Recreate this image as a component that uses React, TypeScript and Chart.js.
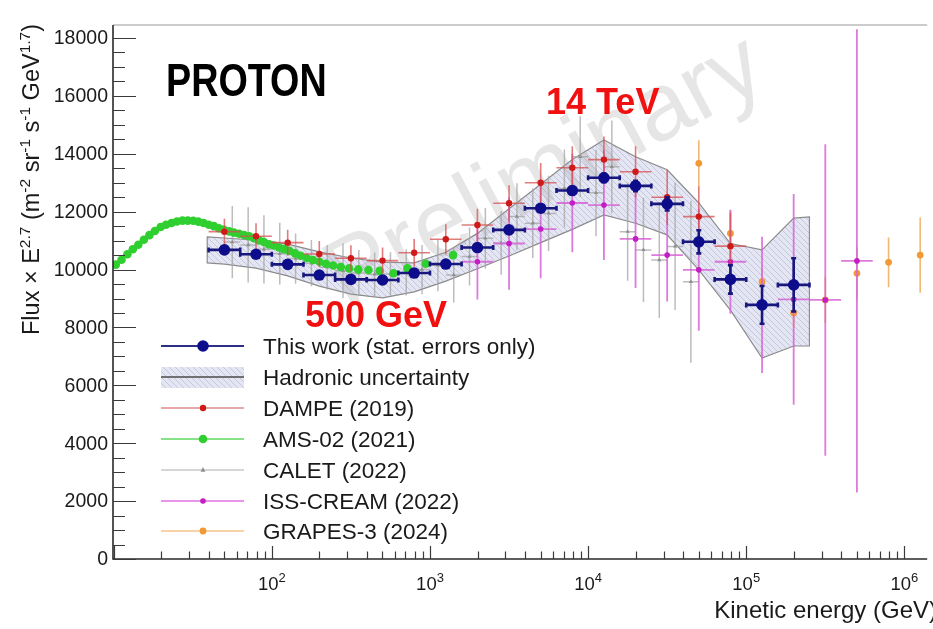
import { useEffect, useRef } from "react";
import { Chart, registerables } from "chart.js";

Chart.register(...registerables);

const FONT = "'Liberation Sans', Arial, Helvetica, sans-serif";

// Axis ranges: kinetic energy (GeV) on a log axis, flux x E^2.7 on a linear axis
const X_MIN = 9.892;
const X_MAX = 1.3946e6;
const Y_MAX = 18450;
const yTickValues = [0, 2000, 4000, 6000, 8000, 10000, 12000, 14000, 16000, 18000];
const yMinorStep = 500;
const xLabelDecades = [2, 3, 4, 5, 6];

// This work (stat. errors only), 0.2-decade bins
const thisWorkEnergy = [50.1, 79.4, 125.9, 199.5, 316.2, 501.2, 794.3, 1259, 1995, 3162, 5012, 7943, 12589, 19953, 31623, 50119, 79433, 125893, 199526];
const thisWorkFlux = [10680, 10530, 10180, 9810, 9660, 9640, 9880, 10190, 10760, 11370, 12120, 12730, 13170, 12890, 12270, 10960, 9660, 8780, 9470];
const thisWorkErr = [40, 40, 50, 50, 60, 60, 70, 80, 90, 100, 110, 130, 150, 180, 230, 400, 490, 650, 920];

// Hadronic uncertainty band
const bandEnergy = [39, 50.1, 79.4, 125.9, 199.5, 316.2, 501.2, 794.3, 1259, 1995, 3162, 5012, 7943, 12589, 19953, 31623, 50119, 79433, 125893, 199526, 251000];
const bandUpper = [11130, 11090, 11020, 10880, 10610, 10400, 10260, 10230, 10600, 11250, 12100, 12950, 13800, 14480, 13900, 13450, 12300, 10900, 10680, 11780, 11820];
const bandLower = [10230, 10190, 10050, 9780, 9430, 9150, 9020, 9230, 9600, 10030, 10470, 10930, 11390, 11890, 11600, 11200, 9990, 8600, 6940, 7360, 7360];

// DAMPE (2019)
const dampeEnergy = [50.1, 79.4, 125.9, 199.5, 316.2, 501.2, 794.3, 1259, 1995, 3162, 5012, 7943, 12589, 19953, 31623, 50119, 79433];
const dampeFlux = [11310, 11150, 10930, 10540, 10390, 10310, 10580, 11050, 11540, 12290, 13000, 13520, 13800, 13380, 12500, 11830, 10810];
const dampeErr = [450, 450, 450, 450, 450, 450, 480, 520, 560, 620, 680, 740, 800, 880, 950, 1050, 1150];

// AMS-02 (2021)
const amsEnergy = [10.3, 11.2, 12.2, 13.2, 14.3, 15.5, 16.8, 18.2, 19.8, 21.4, 23.2, 25.1, 27.2, 29.4, 31.8, 34.3, 37.0, 39.9, 43.0, 46.3, 49.9, 53.7, 57.7, 62.1, 66.7, 71.8, 77.1, 82.9, 89.1, 95.9, 103, 111, 119, 129, 140, 152, 166, 182, 200, 220, 244, 273, 308, 352, 408, 480, 588, 720, 940, 1400];
const amsFlux = [10170, 10340, 10530, 10700, 10860, 11030, 11190, 11330, 11470, 11550, 11610, 11660, 11690, 11690, 11685, 11655, 11610, 11550, 11500, 11430, 11370, 11320, 11275, 11235, 11195, 11150, 11080, 11010, 10950, 10870, 10830, 10765, 10705, 10645, 10560, 10475, 10400, 10330, 10270, 10200, 10140, 10090, 10040, 10005, 9985, 9955, 9870, 10040, 10200, 10500];

// CALET (2022)
const caletEnergy = [56.2, 70.8, 89.1, 112.2, 141.3, 177.8, 223.9, 281.8, 354.8, 446.7, 562.3, 707.9, 891.3, 1122, 1413, 1778, 2239, 2818, 3548, 4467, 5623, 7079, 8913, 11220, 14125, 17783, 22387, 28184, 35481, 44668];
const caletFlux = [10950, 10850, 10700, 10550, 10380, 10220, 10080, 9960, 9880, 9840, 9850, 9900, 10000, 10150, 9810, 10450, 11080, 10920, 11830, 11600, 11940, 12800, 13900, 12650, 13550, 11310, 10680, 10330, 10800, 9580];
const caletErr = [1250, 1300, 1180, 1070, 870, 800, 770, 950, 800, 750, 750, 800, 850, 900, 950, 1000, 1050, 1100, 1150, 1200, 1300, 1350, 1400, 1500, 1600, 1700, 1800, 2000, 2200, 2800];

// ISS-CREAM (2022)
const creamEnergy = [1995, 3162, 5012, 7943, 12589, 19953, 31623, 50119, 79433, 125893, 199526, 316228, 501187];
const creamFlux = [10270, 10900, 11400, 12300, 12230, 11060, 10500, 9990, 10270, 8780, 8970, 8950, 10300];
const creamErr = [1300, 1600, 1700, 1700, 1900, 1700, 1600, 2100, 1800, 2350, 3640, 5380, 8000];

// GRAPES-3 (2024)
const grapesEnergy = [50119, 79433, 125893, 199526, 316228, 501187, 794328, 1258925];
const grapesFlux = [13670, 11250, 9580, 8500, 8950, 9870, 10250, 10500];
const grapesErr = [800, 800, 450, 500, 800, 900, 860, 1300];

type Run = { t: string; sup?: boolean };

const yTitleRuns: Run[] = [
  { t: "Flux \u00d7 E" }, { t: "2.7", sup: true },
  { t: " (m" }, { t: "-2", sup: true },
  { t: " sr" }, { t: "-1", sup: true },
  { t: " s" }, { t: "-1", sup: true },
  { t: " GeV" }, { t: "1.7", sup: true },
  { t: ")" },
];

function richWidth(ctx: CanvasRenderingContext2D, runs: Run[], main: number, sup: number) {
  let w = 0;
  for (const r of runs) {
    ctx.font = `${r.sup ? sup : main}px ${FONT}`;
    w += ctx.measureText(r.t).width;
  }
  return w;
}

function drawRich(ctx: CanvasRenderingContext2D, runs: Run[], x: number, y: number, main: number, sup: number, raise: number) {
  let cx = x;
  for (const r of runs) {
    ctx.font = `${r.sup ? sup : main}px ${FONT}`;
    ctx.fillText(r.t, cx, r.sup ? y - raise : y);
    cx += ctx.measureText(r.t).width;
  }
}

function makeHatch(ctx: CanvasRenderingContext2D) {
  const c = document.createElement("canvas");
  c.width = 6;
  c.height = 6;
  const g = c.getContext("2d")!;
  g.fillStyle = "rgba(224,226,242,0.85)";
  g.fillRect(0, 0, 6, 6);
  g.strokeStyle = "rgba(165,168,196,0.5)";
  g.lineWidth = 1;
  g.beginPath();
  g.moveTo(0, 0); g.lineTo(6, 6);
  g.moveTo(-1, 5); g.lineTo(1, 7);
  g.moveTo(5, -1); g.lineTo(7, 1);
  g.stroke();
  return ctx.createPattern(c, "repeat")!;
}

function series(label: string, energy: number[], flux: number[], extra: any) {
  return {
    label,
    data: energy.map((e, i) => ({ x: e, y: flux[i] })),
    pointBorderWidth: 0,
    borderWidth: 0,
    ...extra,
  };
}

const bandPlugin = {
  id: "hadronicBand",
  beforeDatasetsDraw(chart: any) {
    const { ctx, scales, chartArea } = chart;
    const xs = scales.x, ys = scales.y;
    ctx.save();
    ctx.beginPath();
    ctx.rect(chartArea.left, chartArea.top, chartArea.right - chartArea.left, chartArea.bottom - chartArea.top);
    ctx.clip();
    ctx.beginPath();
    bandEnergy.forEach((e, i) => {
      const px = xs.getPixelForValue(e), py = ys.getPixelForValue(bandUpper[i]);
      if (i === 0) ctx.moveTo(px, py); else ctx.lineTo(px, py);
    });
    for (let i = bandEnergy.length - 1; i >= 0; i--) {
      ctx.lineTo(xs.getPixelForValue(bandEnergy[i]), ys.getPixelForValue(bandLower[i]));
    }
    ctx.closePath();
    ctx.fillStyle = makeHatch(ctx);
    ctx.fill();
    ctx.strokeStyle = "#8c8c8c";
    ctx.lineWidth = 1.2;
    ctx.stroke();

    // watermark
    ctx.translate(346, 310);
    ctx.rotate((-28 * Math.PI) / 180);
    ctx.font = `96px ${FONT}`;
    ctx.fillStyle = "rgba(160,160,160,0.26)";
    ctx.textBaseline = "alphabetic";
    ctx.fillText("Preliminary", 0, 0);
    ctx.restore();
  },
};

const errorBarPlugin = {
  id: "errorBars",
  beforeDatasetDraw(chart: any, args: any) {
    const ds = chart.data.datasets[args.index];
    if (!ds.errY && !ds.halfDex) return;
    const { ctx, scales, chartArea } = chart;
    const xs = scales.x, ys = scales.y;
    ctx.save();
    ctx.beginPath();
    ctx.rect(chartArea.left, chartArea.top, chartArea.right - chartArea.left, chartArea.bottom - chartArea.top);
    ctx.clip();
    ctx.strokeStyle = ds.barColor;
    ctx.lineWidth = ds.barWidth;
    const cap = ds.cap || 0;
    ds.data.forEach((p: any, i: number) => {
      const px = xs.getPixelForValue(p.x), py = ys.getPixelForValue(p.y);
      ctx.beginPath();
      if (ds.halfDex) {
        const f = Math.pow(10, ds.halfDex);
        const x0 = xs.getPixelForValue(p.x / f), x1 = xs.getPixelForValue(p.x * f);
        ctx.moveTo(x0, py); ctx.lineTo(x1, py);
        if (cap) {
          ctx.moveTo(x0, py - cap); ctx.lineTo(x0, py + cap);
          ctx.moveTo(x1, py - cap); ctx.lineTo(x1, py + cap);
        }
      }
      if (ds.errY) {
        const e = ds.errY[i];
        const y0 = ys.getPixelForValue(p.y - e), y1 = ys.getPixelForValue(p.y + e);
        ctx.moveTo(px, y0); ctx.lineTo(px, y1);
        if (cap) {
          ctx.moveTo(px - cap, y0); ctx.lineTo(px + cap, y0);
          ctx.moveTo(px - cap, y1); ctx.lineTo(px + cap, y1);
        }
      }
      ctx.stroke();
    });
    ctx.restore();
  },
};

function drawMarker(ctx: CanvasRenderingContext2D, style: string, x: number, y: number, r: number, color: string) {
  ctx.fillStyle = color;
  ctx.beginPath();
  if (style === "triangle") {
    ctx.moveTo(x, y - r * 1.2);
    ctx.lineTo(x + r, y + r * 0.7);
    ctx.lineTo(x - r, y + r * 0.7);
    ctx.closePath();
  } else {
    ctx.arc(x, y, r, 0, Math.PI * 2);
  }
  ctx.fill();
}

const framePlugin = {
  id: "frameAndText",
  afterDatasetsDraw(chart: any) {
    const { ctx, scales, chartArea } = chart;
    const xs = scales.x, ys = scales.y;
    const { left, right, top, bottom } = chartArea;
    ctx.save();

    // frame
    ctx.strokeStyle = "#9a9a9a";
    ctx.lineWidth = 1.2;
    ctx.beginPath();
    ctx.moveTo(left, top); ctx.lineTo(right, top);
    ctx.stroke();
    ctx.strokeStyle = "#2a2a2a";
    ctx.lineWidth = 1.6;
    ctx.beginPath();
    ctx.moveTo(left, top); ctx.lineTo(left, bottom); ctx.lineTo(right, bottom);
    ctx.stroke();

    // y ticks
    ctx.strokeStyle = "#3a3a3a";
    ctx.lineWidth = 1.2;
    ctx.beginPath();
    for (let v = 0; v <= Y_MAX; v += yMinorStep) {
      const py = Math.round(ys.getPixelForValue(v)) + 0.5;
      const major = yTickValues.includes(v);
      ctx.moveTo(left, py); ctx.lineTo(left + (major ? 23 : 12), py);
    }
    // x ticks
    for (let d = 1; d <= 6; d++) {
      for (let m = 1; m <= 9; m++) {
        const v = m * Math.pow(10, d);
        if (v < X_MIN || v > X_MAX) continue;
        const px = Math.round(xs.getPixelForValue(v)) + 0.5;
        ctx.moveTo(px, bottom); ctx.lineTo(px, bottom - (m === 1 ? 13 : 7.5));
      }
    }
    ctx.stroke();

    // y tick labels
    ctx.fillStyle = "#1a1a1a";
    ctx.font = `19.5px ${FONT}`;
    ctx.textAlign = "right";
    ctx.textBaseline = "middle";
    yTickValues.forEach((v) => {
      ctx.fillText(String(v), 108, ys.getPixelForValue(v) + 1);
    });

    // x tick labels 10^n
    ctx.textAlign = "left";
    ctx.textBaseline = "alphabetic";
    xLabelDecades.forEach((d) => {
      const runs: Run[] = [{ t: "10" }, { t: String(d), sup: true }];
      const w = richWidth(ctx, runs, 18.5, 13);
      const px = xs.getPixelForValue(Math.pow(10, d));
      drawRich(ctx, runs, px - w / 2, 590, 18.5, 13, 8);
    });

    // axis titles
    ctx.font = `24px ${FONT}`;
    ctx.textAlign = "right";
    ctx.fillText("Kinetic energy (GeV)", 937, 618);
    ctx.textAlign = "left";
    const tw = richWidth(ctx, yTitleRuns, 23.5, 15.5);
    ctx.save();
    ctx.translate(39, 24 + tw);
    ctx.rotate(-Math.PI / 2);
    drawRich(ctx, yTitleRuns, 0, 0, 23.5, 15.5, 9);
    ctx.restore();

    // annotations
    ctx.save();
    ctx.fillStyle = "#000";
    ctx.font = `bold 46px ${FONT}`;
    ctx.translate(166, 96);
    ctx.scale(0.82, 1);
    ctx.fillText("PROTON", 0, 0);
    ctx.restore();
    ctx.fillStyle = "#f01010";
    ctx.font = `bold 36px ${FONT}`;
    ctx.fillText("14 TeV", 546, 114);
    ctx.fillText("500 GeV", 305, 327);

    // legend
    const lx0 = 161, lx1 = 244, mx = 203, tx = 263;
    const rowY = [346, 377, 408, 439, 470, 501, 531];
    const dsets = chart.data.datasets;
    const entries = [
      { ds: dsets[0] },
      { band: true, label: "Hadronic uncertainty" },
      { ds: dsets[1] },
      { ds: dsets[2] },
      { ds: dsets[5] },
      { ds: dsets[3] },
      { ds: dsets[4] },
    ];
    entries.forEach((en: any, i: number) => {
      const y = rowY[i];
      if (en.band) {
        ctx.fillStyle = makeHatch(ctx);
        ctx.fillRect(lx0, y - 10, lx1 - lx0, 21);
        ctx.strokeStyle = "#707070";
        ctx.lineWidth = 2;
        ctx.beginPath(); ctx.moveTo(lx0, y); ctx.lineTo(lx1, y); ctx.stroke();
      } else {
        const ds = en.ds;
        ctx.strokeStyle = ds.legendLine;
        ctx.lineWidth = ds.legendLineWidth;
        ctx.beginPath(); ctx.moveTo(lx0, y); ctx.lineTo(lx1, y); ctx.stroke();
        drawMarker(ctx, ds.pointStyle, mx, y, ds.pointRadius, ds.backgroundColor);
      }
      ctx.fillStyle = "#1a1a1a";
      ctx.font = `22.5px ${FONT}`;
      ctx.fillText(en.band ? en.label : en.ds.label, tx, y + 8);
    });

    ctx.restore();
  },
};

export default function App() {
  const ref = useRef<HTMLCanvasElement>(null);

  useEffect(() => {
    document.body.style.margin = "0";
    const datasets: any[] = [
      series("This work (stat. errors only)", thisWorkEnergy, thisWorkFlux, {
        errY: thisWorkErr, halfDex: 0.1, barColor: "#17177e", barWidth: 2.6, cap: 2.5,
        pointStyle: "circle", pointRadius: 5.8, backgroundColor: "#0d0d8c",
        legendLine: "#2e2e86", legendLineWidth: 2,
      }),
      series("DAMPE (2019)", dampeEnergy, dampeFlux, {
        errY: dampeErr, halfDex: 0.1, barColor: "rgba(214,80,80,0.75)", barWidth: 1.6,
        pointStyle: "circle", pointRadius: 3.2, backgroundColor: "#cf1a1a",
        legendLine: "rgba(214,110,110,0.8)", legendLineWidth: 1.6,
      }),
      series("AMS-02 (2021)", amsEnergy, amsFlux, {
        pointStyle: "circle", pointRadius: 4.3, backgroundColor: "#30cf30",
        legendLine: "#5fd85f", legendLineWidth: 1.6,
      }),
      series("ISS-CREAM (2022)", creamEnergy, creamFlux, {
        errY: creamErr, halfDex: 0.1, barColor: "rgba(214,100,214,0.85)", barWidth: 1.8,
        pointStyle: "circle", pointRadius: 2.8, backgroundColor: "#c21ec2",
        legendLine: "#e070e0", legendLineWidth: 1.6,
      }),
      series("GRAPES-3 (2024)", grapesEnergy, grapesFlux, {
        errY: grapesErr, barColor: "rgba(240,170,90,0.85)", barWidth: 1.6,
        pointStyle: "circle", pointRadius: 3.4, backgroundColor: "#f19a35",
        legendLine: "#f5c48a", legendLineWidth: 1.6,
      }),
      series("CALET (2022)", caletEnergy, caletFlux, {
        errY: caletErr, halfDex: 0.05, barColor: "rgba(165,165,165,0.75)", barWidth: 1.5,
        pointStyle: "triangle", pointRadius: 2.4, backgroundColor: "#8e8e8e",
        legendLine: "#c8c8c8", legendLineWidth: 1.6,
      }),
    ];

    const chart = new Chart(ref.current!, {
      type: "scatter",
      data: { datasets },
      options: {
        animation: false,
        responsive: false,
        devicePixelRatio: 1,
        layout: { padding: { left: 113, right: 0, top: 25, bottom: 70 } },
        scales: {
          x: { type: "logarithmic", min: X_MIN, max: X_MAX, display: false, bounds: "data" },
          y: { type: "linear", min: 0, max: Y_MAX, display: false },
        },
        plugins: { legend: { display: false }, tooltip: { enabled: false } },
      },
      plugins: [bandPlugin, errorBarPlugin, framePlugin],
    } as any);
    return () => chart.destroy();
  }, []);

  return <canvas ref={ref} width={933} height={629} style={{ display: "block" }} />;
}
